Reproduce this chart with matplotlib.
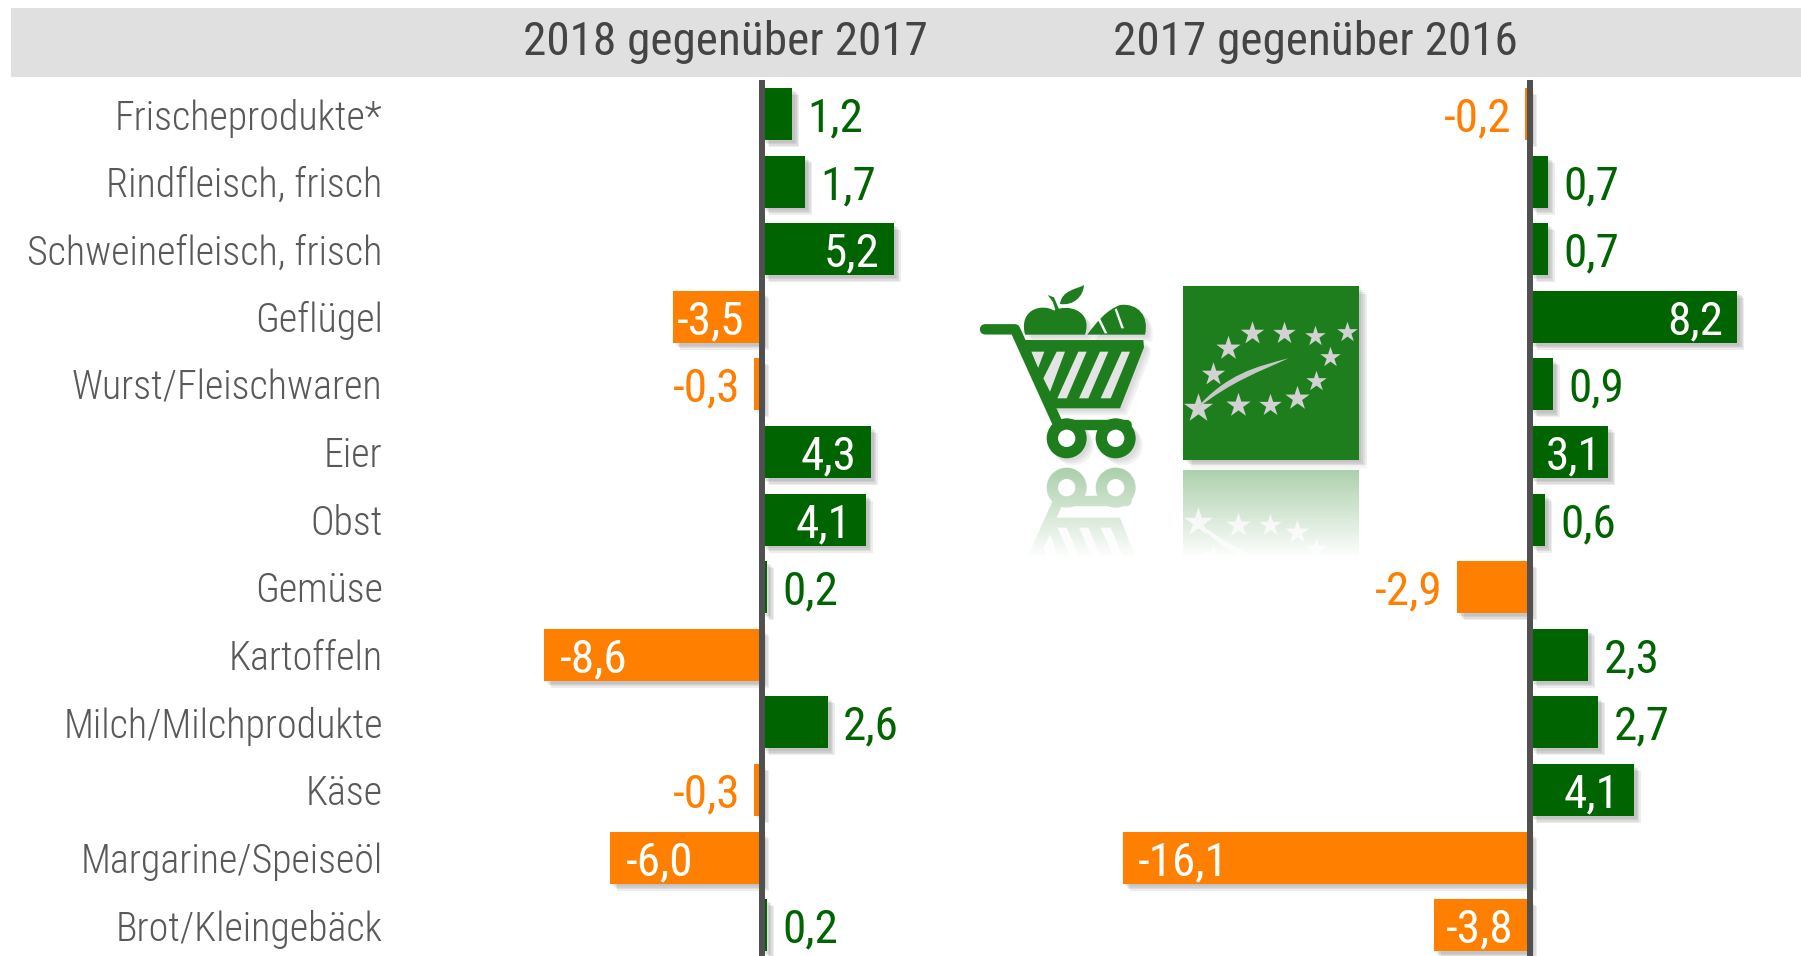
import numpy as np
import matplotlib
matplotlib.use("Agg")
import matplotlib.pyplot as plt
import matplotlib.patheffects as pe
from matplotlib.patches import Polygon, Rectangle, Circle, PathPatch
from matplotlib.path import Path
from matplotlib.colors import LinearSegmentedColormap
from matplotlib.transforms import Affine2D

categories = ["Frischeprodukte*", "Rindfleisch, frisch", "Schweinefleisch, frisch", "Geflügel",
              "Wurst/Fleischwaren", "Eier", "Obst", "Gemüse", "Kartoffeln", "Milch/Milchprodukte",
              "Käse", "Margarine/Speiseöl", "Brot/Kleingebäck"]
values_2018 = [1.2, 1.7, 5.2, -3.5, -0.3, 4.3, 4.1, 0.2, -8.6, 2.6, -0.3, -6.0, 0.2]
values_2017 = [-0.2, 0.7, 0.7, 8.2, 0.9, 3.1, 0.6, -2.9, 2.3, 2.7, 4.1, -16.1, -3.8]
titles = ["2018 gegenüber 2017", "2017 gegenüber 2016"]

W, H = 1801, 956
GREEN, ORANGE = "#006400", "#FF7F00"
LOGO = "#1E7E1E"
plt.rcParams["font.family"] = ["Roboto Condensed", "DejaVu Sans"]

fig = plt.figure(figsize=(W / 100, H / 100), dpi=100, facecolor="white")
PXU = 25.3
ROW = 67.6
Y0 = 114.0


def pane(x0, x1, zero):
    ax = fig.add_axes([x0 / W, 0, (x1 - x0) / W, (H - 80) / H])
    ax.set_xlim((x0 - zero) / PXU, (x1 - zero) / PXU)
    ax.set_ylim((H - Y0) / ROW, (80 - Y0) / ROW)
    ax.patch.set_alpha(0)
    for s in ax.spines.values():
        s.set_visible(False)
    ax.tick_params(length=0)
    ax.set_xticks([])
    return ax


def shadow():
    return [pe.SimplePatchShadow(offset=(o, -o), shadow_rgbFace="#808080", alpha=0.14) for o in (5, 4, 3, 2)] + [pe.Normal()]


def draw(ax, vals):
    y = np.arange(len(vals))
    bars = ax.barh(y, vals, height=52 / ROW, color=[GREEN if v > 0 else ORANGE for v in vals], zorder=2)
    for b in bars:
        b.set_path_effects(shadow())
    ax.axvline(0, color="#505050", lw=4.3, zorder=3)
    for i, v in enumerate(vals):
        s = f"{v:.1f}".replace(".", ",")
        inside = abs(v) >= 3
        if v > 0:
            if inside:
                pad = 5 if v < 3.5 else 10
                kw = dict(xytext=(-pad, 0), ha="right", color="white")
            else:
                kw = dict(xytext=(11, 0), ha="left", color=GREEN)
        else:
            if inside:
                off = 2.5 if v == -3.5 else (8.5 if abs(v) < 4 else 11)
                kw = dict(xytext=(off, 0), ha="left", color="white")
            else:
                kw = dict(xytext=(-10, 0), ha="right", color=ORANGE)
        ax.annotate(s, (v, i), textcoords="offset points", va="center_baseline", fontsize=34, zorder=4, **kw)


ax1 = pane(400, 1100, 762)
draw(ax1, values_2018)
ax1.set_yticks(np.arange(len(categories)))
ax1.set_yticklabels(categories, fontsize=28.8, color="#595959", fontweight=300)
ax1.tick_params(axis="y", pad=12.5)
ax2 = pane(1000, W, 1530)
draw(ax2, values_2017)
ax2.set_yticks([])

ov = fig.add_axes([0, 0, 1, 1], zorder=-1)
ov.set_xlim(0, W)
ov.set_ylim(H, 0)
ov.axis("off")
ov.add_patch(Rectangle((11, 8), W - 11, 69, color="#E0E0E0", lw=0))
ov.text(725, 42, titles[0], ha="center", va="center", fontsize=34, color="#444444")
ov.text(1315, 42, titles[1], ha="center", va="center", fontsize=34, color="#444444")

lg = fig.add_axes([0, 0, 1, 1], zorder=-0.5)
lg.set_xlim(0, W)
lg.set_ylim(H, 0)
lg.axis("off")
M, L, C = Path.MOVETO, Path.LINETO, Path.CURVE4


def transform(tr):
    base = Affine2D().scale(1 / 3).translate(950, 260)
    return base + tr + lg.transData if tr is not None else base + lg.transData


def cart(tr, sh=True):
    t = transform(tr)
    eff = [pe.SimplePatchShadow(offset=(o, -o), shadow_rgbFace="#808080", alpha=0.1) for o in (5, 3.5, 2)] + [pe.Normal()] if sh else [pe.Normal()]
    lg.add_patch(Polygon([(200, 240), (580, 240), (582, 262), (510, 445), (290, 445), (215, 270)], closed=True,
                         fc=LOGO, ec="none", transform=t, path_effects=eff))
    holes = [[(244, 275), (283, 275), (264, 325)],
             [(320, 275), (345, 275), (300, 395), (280, 355)],
             [(385, 275), (410, 275), (350, 415), (322, 415)],
             [(450, 275), (475, 275), (415, 415), (387, 415)],
             [(515, 275), (540, 275), (482, 415), (452, 415)]]
    for h in holes:
        lg.add_patch(Polygon(h, closed=True, fc="#E4E4E4", ec="none", transform=t))
    lg.add_patch(PathPatch(Path([(105, 208), (195, 208), (325, 495), (530, 495)], [M, L, L, L]),
                           fc="none", ec=LOGO, lw=7.5, capstyle="round", joinstyle="round", transform=t))
    for cx in (350, 497):
        lg.add_patch(Circle((cx, 535), 60, fc=LOGO, ec="none", transform=t, path_effects=eff))
        lg.add_patch(Circle((cx, 535), 26, fc="white", ec="none", transform=t))
    lg.add_patch(PathPatch(Path([(225, 224), (205, 145), (280, 130), (312, 152), (350, 130), (430, 150), (405, 224), (225, 224)],
                                [M, C, C, C, C, C, C, L]), fc=LOGO, ec="none", transform=t, path_effects=eff))
    lg.add_patch(Polygon([(293, 105), (312, 112), (330, 155), (318, 155), (308, 125)], closed=True, fc=LOGO, ec="none", transform=t))
    lg.add_patch(PathPatch(Path([(330, 132), (335, 90), (380, 88), (402, 75), (400, 110), (370, 138), (330, 132)], [M, C, C, C, C, C, C]),
                           fc=LOGO, ec="none", transform=t))
    lg.add_patch(PathPatch(Path([(412, 224), (440, 185), (470, 150), (510, 135), (565, 128), (598, 170), (585, 224), (412, 224)],
                                [M, C, C, C, C, C, C, L]), fc=LOGO, ec="none", transform=t, path_effects=eff))
    lg.add_patch(Polygon([(450, 175), (472, 220), (464, 220), (444, 180)], closed=True, fc="white", ec="none", transform=t))
    lg.add_patch(Polygon([(500, 145), (522, 205), (514, 205), (494, 148)], closed=True, fc="white", ec="none", transform=t))


def leaf(tr, sh=True):
    t = transform(tr)
    eff = [pe.SimplePatchShadow(offset=(o, -o), shadow_rgbFace="#707070", alpha=0.12) for o in (6, 4.5, 3, 1.5)] + [pe.Normal()] if sh else [pe.Normal()]
    lg.add_patch(Rectangle((700, 78), 526, 523, fc=LOGO, ec="none", transform=t, path_effects=eff))
    sx = [905, 1003, 1095, 1190, 1140, 1097, 1040, 960, 865, 790, 835, 745]
    sy = [220, 220, 228, 215, 290, 362, 413, 435, 435, 342, 265, 445]
    ss = [520, 480, 400, 400, 400, 400, 560, 480, 560, 520, 560, 800]
    for x, y, s in zip(sx, sy, ss):
        xy = lg.transData.inverted().transform(t.transform((x, y)))
        lg.scatter([xy[0]], [xy[1]], s=s * 0.6, marker="*", c="#D2D2D2", linewidths=0, zorder=3)
    lg.add_patch(PathPatch(Path([(735, 450), (830, 340), (920, 320), (1015, 295), (930, 335), (850, 360), (735, 450)],
                                [M, C, C, C, C, C, C]), fc="#C8C8C8", ec="none", transform=t, zorder=3))


cart(None)
leaf(None)
cart(Affine2D().scale(1, -1).translate(0, 2 * 463), sh=False)
leaf(Affine2D().scale(1, -1).translate(0, 2 * 465), sh=False)
grad = np.linspace(0.62, 1.0, 100).reshape(-1, 1)
cmap = LinearSegmentedColormap.from_list("w", [(1, 1, 1, 0), (1, 1, 1, 1)])
lg.imshow(grad, extent=(970, 1380, 558, 465), aspect="auto", cmap=cmap, vmin=0, vmax=1, zorder=5)
lg.add_patch(Rectangle((970, 556), 420, 120, fc="white", ec="none", zorder=6))
lg.set_xlim(0, W)
lg.set_ylim(H, 0)

fig.savefig("out.png", dpi=100)
